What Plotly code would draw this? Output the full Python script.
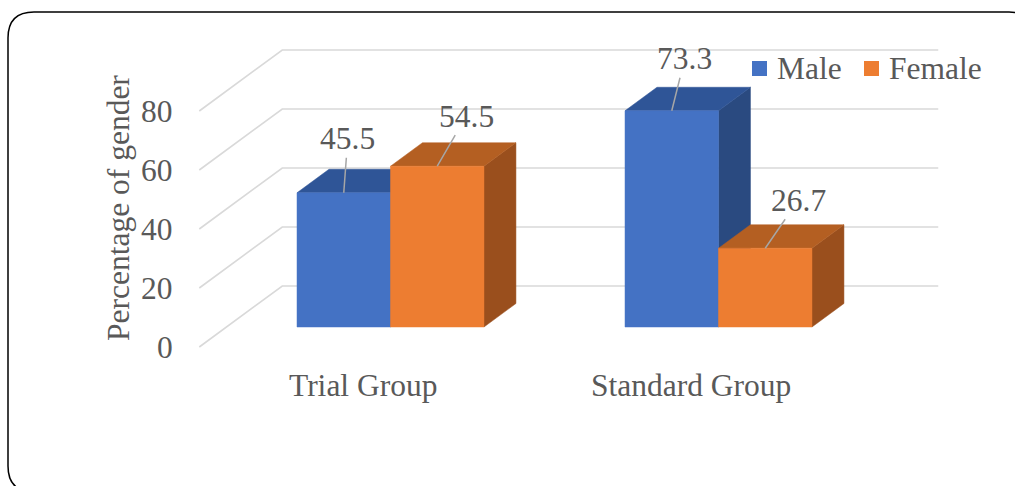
import plotly.graph_objects as go

# ---------------- data ----------------
categories = ["Trial Group", "Standard Group"]
series_names = ["Male", "Female"]
male_values = [45.5, 73.3]
female_values = [54.5, 26.7]
y_ticks = [0, 20, 40, 60, 80]
y_title = "Percentage of gender"

# ---------------- style / geometry ----------------
W, H = 1015, 486
PX_PER_CAT = 328.0          # pixels per category step
PX_PER_UNIT = 2.95          # pixels per value unit
CAT0_PX = 390.5             # pixel x of first category centre (bar front plane)
ZERO_PX = 327.0             # pixel y of value 0 on bar front plane
BAR_W = 0.285               # bar width in category units
FONT = "Liberation Serif, Times New Roman, serif"
FS = 31.5
TXT = "#595959"
GRID = "#d9d9d9"
COL = {
    "Male": {"front": "#4472C4", "top": "#2F5597", "side": "#2A4A80"},
    "Female": {"front": "#ED7D31", "top": "#B45F22", "side": "#9A4F1D"},
}
LABEL_OFFSETS = [[(4, -54), (29, -50)], [(13, -52), (33, -48)]]


def dpx(px_dx, px_rise):
    """pixel offset -> data offset (cat units, value units)"""
    return px_dx / PX_PER_CAT, px_rise / PX_PER_UNIT


SLOPE = 1.36                         # horizontal px per vertical px of depth
bar_dx, bar_dy = dpx(SLOPE * 23.5, 23.5)
wall_dx, wall_dy = dpx(SLOPE * 41, 41)
front_dx, front_dy = dpx(-SLOPE * 20, -20)
x_left, x_right = -0.5, len(categories) - 0.5

fig = go.Figure()

# back wall grid lines + left floor/side diagonals
gx, gy = [], []
for v in y_ticks:
    gx += [x_left + front_dx, x_left + wall_dx, x_right + wall_dx, None]
    gy += [v + front_dy, v + wall_dy, v + wall_dy, None]
fig.add_trace(go.Scatter(x=gx, y=gy, mode="lines", line=dict(color=GRID, width=1.6),
                         hoverinfo="skip", showlegend=False))


def poly(xs, ys, color):
    fig.add_trace(go.Scatter(x=xs + [xs[0]], y=ys + [ys[0]], mode="lines", fill="toself",
                             fillcolor=color, line=dict(color=color, width=0.5),
                             hoverinfo="skip", showlegend=False))


annotations = []
for ci, cat in enumerate(categories):
    for si, (name, vals) in enumerate(zip(series_names, [male_values, female_values])):
        v = vals[ci]
        xl = ci - BAR_W + si * BAR_W
        xr = xl + BAR_W
        c = COL[name]
        # side face
        poly([xr, xr + bar_dx, xr + bar_dx, xr], [0, bar_dy, v + bar_dy, v], c["side"])
        # top face
        poly([xl, xr, xr + bar_dx, xl + bar_dx], [v, v, v + bar_dy, v + bar_dy], c["top"])
        # front face
        poly([xl, xr, xr, xl], [0, 0, v, v], c["front"])
        ax, ay = LABEL_OFFSETS[ci][si]
        annotations.append(dict(x=(xl + xr) / 2, y=v, xref="x", yref="y", text=f"{v}",
                                showarrow=True, arrowhead=0, arrowwidth=1.5, arrowcolor="#a6a6a6",
                                ax=ax, ay=ay, standoff=0,
                                font=dict(family=FONT, size=FS, color=TXT)))

# y tick labels (at front-left edge)
for v in y_ticks:
    annotations.append(dict(x=x_left + front_dx, y=v + front_dy, xref="x", yref="y",
                            text=str(v), showarrow=False, xanchor="right", yanchor="middle",
                            xshift=-24, font=dict(family=FONT, size=FS, color=TXT)))

# category labels (at front floor edge)
for ci, cat in enumerate(categories):
    annotations.append(dict(x=ci + front_dx, y=front_dy, xref="x", yref="y", text=cat,
                            showarrow=False, xanchor="center", yanchor="middle", yshift=-38,
                            font=dict(family=FONT, size=FS, color=TXT)))

# axis title
annotations.append(dict(x=118 / W, y=1 - 208 / H, xref="paper", yref="paper", text=y_title,
                        textangle=-90, showarrow=False, xanchor="center", yanchor="middle",
                        font=dict(family=FONT, size=FS, color=TXT)))

# legend (manual)
shapes = []
leg = [(752, "Male"), (864, "Female")]
for (lx, name) in leg:
    shapes.append(dict(type="rect", xref="paper", yref="paper",
                       x0=lx / W, x1=(lx + 15) / W, y0=1 - 76 / H, y1=1 - 61 / H,
                       fillcolor=COL[name]["front"], line=dict(width=0)))
    annotations.append(dict(x=(lx + 23) / W, y=1 - 68.5 / H, xref="paper", yref="paper",
                            text=name, showarrow=False, xanchor="left", yanchor="middle",
                            font=dict(family=FONT, size=FS, color=TXT)))

# rounded outer border
bl, bt, br, bb, r = 8, 12, 1035, 492, 26
def px(xp): return xp / W
def py(yp): return 1 - yp / H
path = (f"M {px(bl)},{py(bt + r)} Q {px(bl)},{py(bt)} {px(bl + r)},{py(bt)} "
        f"L {px(br - r)},{py(bt)} Q {px(br)},{py(bt)} {px(br)},{py(bt + r)} "
        f"L {px(br)},{py(bb - r)} Q {px(br)},{py(bb)} {px(br - r)},{py(bb)} "
        f"L {px(bl + r)},{py(bb)} Q {px(bl)},{py(bb)} {px(bl)},{py(bb - r)} Z")
shapes.append(dict(type="path", xref="paper", yref="paper", path=path,
                   line=dict(color="#000000", width=1.5)))

fig.update_layout(
    width=W, height=H, autosize=False,
    margin=dict(l=0, r=0, t=0, b=0),
    paper_bgcolor="white", plot_bgcolor="white",
    xaxis=dict(range=[-CAT0_PX / PX_PER_CAT, (W - CAT0_PX) / PX_PER_CAT], visible=False, fixedrange=True),
    yaxis=dict(range=[-(H - ZERO_PX) / PX_PER_UNIT, ZERO_PX / PX_PER_UNIT], visible=False, fixedrange=True),
    annotations=annotations, shapes=shapes, showlegend=False,
)

fig.write_html("out.html", config={"displayModeBar": False})
